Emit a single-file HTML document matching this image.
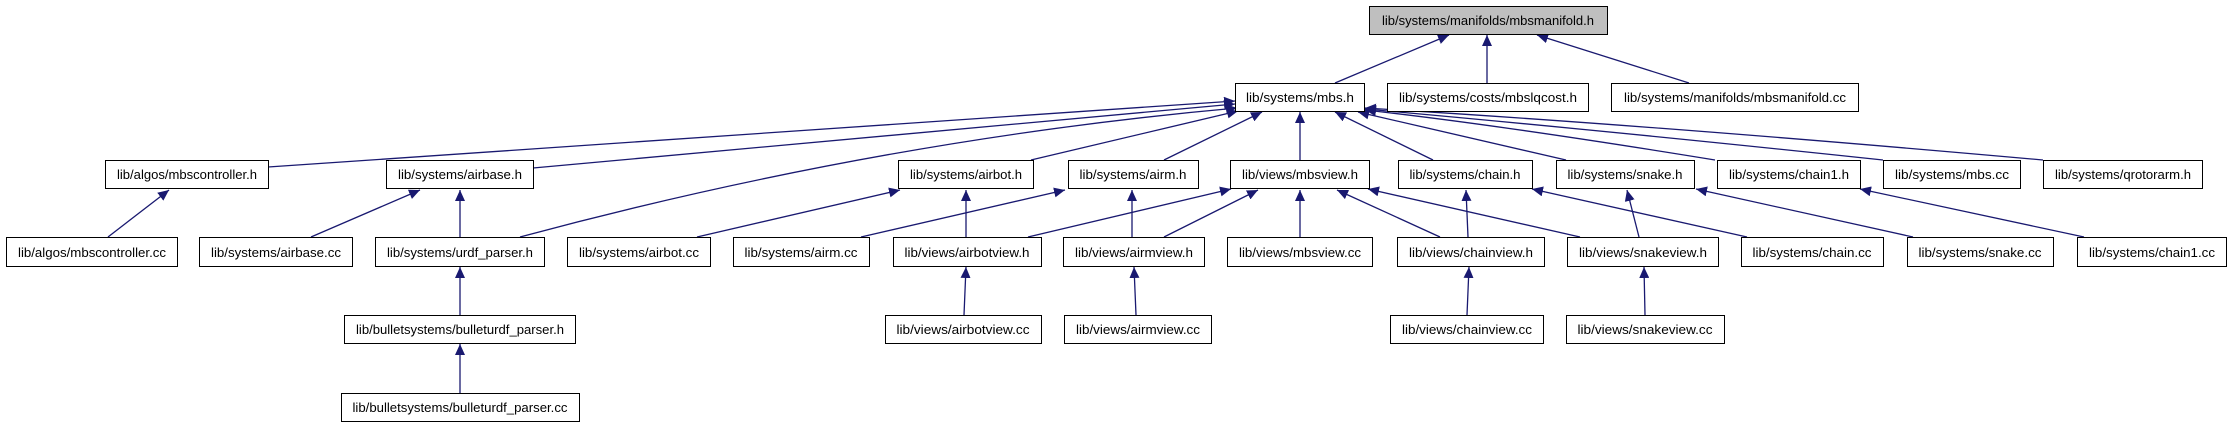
<!DOCTYPE html>
<html><head><meta charset="utf-8"><style>
html,body{margin:0;padding:0;background:#fff;}
svg{display:block;}
text{font-family:"Liberation Sans",Helvetica,sans-serif;font-size:13px;fill:#000;}
</style></head><body>
<svg width="2232" height="427" viewBox="0 0 2232 427" xmlns="http://www.w3.org/2000/svg">
<defs>
<marker id="a" markerUnits="userSpaceOnUse" markerWidth="12" markerHeight="10" refX="11" refY="5" orient="auto">
<path d="M0,0 L11,5 L0,10 Z" fill="#191970"/>
</marker>
</defs>
<g stroke="#191970" stroke-width="1.3" fill="none" marker-end="url(#a)">
<!-- to mbsmanifold.h -->
<line x1="1335" y1="83" x2="1449" y2="35"/>
<line x1="1487" y1="83" x2="1487" y2="35"/>
<line x1="1689" y1="83" x2="1537" y2="35"/>
<!-- to mbs.h -->
<line x1="268" y1="167" x2="1235" y2="101"/>
<line x1="533" y1="168" x2="1235" y2="104"/>
<path d="M520,237 Q880,140 1237,108"/>
<line x1="1031" y1="160" x2="1238" y2="111"/>
<line x1="1164" y1="160" x2="1262" y2="112"/>
<line x1="1300" y1="160" x2="1300" y2="112"/>
<line x1="1433" y1="160" x2="1335" y2="112"/>
<line x1="1566" y1="160" x2="1358" y2="112"/>
<path d="M1715,160 Q1500,125 1365,110"/>
<path d="M1883,160 Q1600,130 1365,109"/>
<path d="M2043,160 Q1650,125 1365,108"/>
<!-- row2 -> row3 -->
<line x1="108" y1="237" x2="169" y2="190"/>
<line x1="311" y1="237" x2="420" y2="190"/>
<line x1="460" y1="237" x2="460" y2="190"/>
<line x1="697" y1="237" x2="900" y2="190"/>
<line x1="966" y1="237" x2="966" y2="190"/>
<line x1="861" y1="237" x2="1065" y2="190"/>
<line x1="1132" y1="237" x2="1132" y2="190"/>
<line x1="1164" y1="237" x2="1258" y2="190"/>
<line x1="1028" y1="237" x2="1231" y2="189"/>
<line x1="1300" y1="237" x2="1300" y2="190"/>
<line x1="1440" y1="237" x2="1337" y2="190"/>
<line x1="1580" y1="237" x2="1368" y2="189"/>
<line x1="1468" y1="237" x2="1466" y2="190"/>
<line x1="1747" y1="237" x2="1532" y2="189"/>
<line x1="1639" y1="237" x2="1627" y2="190"/>
<line x1="1913" y1="237" x2="1696" y2="189"/>
<line x1="2084" y1="237" x2="1860" y2="189"/>
<!-- row3 -> row4 -->
<line x1="460" y1="315" x2="460" y2="267"/>
<line x1="964" y1="315" x2="966" y2="267"/>
<line x1="1136" y1="315" x2="1134" y2="267"/>
<line x1="1467" y1="315" x2="1469" y2="267"/>
<line x1="1645" y1="315" x2="1644" y2="267"/>
<line x1="460" y1="393" x2="460" y2="344"/>
</g>
<g stroke="#000" stroke-width="1">
<rect x="1369.5" y="6.5" width="238" height="28" fill="#bfbfbf"/>
<rect x="1235.5" y="83.5" width="129" height="28" fill="#fff"/>
<rect x="1387.5" y="83.5" width="201" height="28" fill="#fff"/>
<rect x="1611.5" y="83.5" width="247" height="28" fill="#fff"/>
<rect x="105.5" y="160.5" width="163" height="28" fill="#fff"/>
<rect x="386.5" y="160.5" width="147" height="28" fill="#fff"/>
<rect x="898.5" y="160.5" width="135" height="28" fill="#fff"/>
<rect x="1068.5" y="160.5" width="130" height="28" fill="#fff"/>
<rect x="1230.5" y="160.5" width="139" height="28" fill="#fff"/>
<rect x="1398.5" y="160.5" width="134" height="28" fill="#fff"/>
<rect x="1556.5" y="160.5" width="138" height="28" fill="#fff"/>
<rect x="1717.5" y="160.5" width="143" height="28" fill="#fff"/>
<rect x="1883.5" y="160.5" width="137" height="28" fill="#fff"/>
<rect x="2043.5" y="160.5" width="159" height="28" fill="#fff"/>
<rect x="6.5" y="237.5" width="171" height="29" fill="#fff"/>
<rect x="199.5" y="237.5" width="153" height="29" fill="#fff"/>
<rect x="375.5" y="237.5" width="169" height="29" fill="#fff"/>
<rect x="567.5" y="237.5" width="143" height="29" fill="#fff"/>
<rect x="733.5" y="237.5" width="136" height="29" fill="#fff"/>
<rect x="893.5" y="237.5" width="148" height="29" fill="#fff"/>
<rect x="1063.5" y="237.5" width="141" height="29" fill="#fff"/>
<rect x="1227.5" y="237.5" width="145" height="29" fill="#fff"/>
<rect x="1397.5" y="237.5" width="147" height="29" fill="#fff"/>
<rect x="1567.5" y="237.5" width="151" height="29" fill="#fff"/>
<rect x="1741.5" y="237.5" width="142" height="29" fill="#fff"/>
<rect x="1907.5" y="237.5" width="146" height="29" fill="#fff"/>
<rect x="2077.5" y="237.5" width="149" height="29" fill="#fff"/>
<rect x="344.5" y="315.5" width="231" height="28" fill="#fff"/>
<rect x="885.5" y="315.5" width="156" height="28" fill="#fff"/>
<rect x="1064.5" y="315.5" width="147" height="28" fill="#fff"/>
<rect x="1390.5" y="315.5" width="153" height="28" fill="#fff"/>
<rect x="1566.5" y="315.5" width="158" height="28" fill="#fff"/>
<rect x="341.5" y="393.5" width="238" height="28" fill="#fff"/>
</g>
<g text-anchor="middle" lengthAdjust="spacingAndGlyphs">
<text x="1488" y="25" textLength="212" lengthAdjust="spacingAndGlyphs">lib/systems/manifolds/mbsmanifold.h</text>
<text x="1300" y="102" textLength="108" lengthAdjust="spacingAndGlyphs">lib/systems/mbs.h</text>
<text x="1488" y="102" textLength="178" lengthAdjust="spacingAndGlyphs">lib/systems/costs/mbslqcost.h</text>
<text x="1735" y="102" textLength="222" lengthAdjust="spacingAndGlyphs">lib/systems/manifolds/mbsmanifold.cc</text>
<text x="187" y="179" textLength="140" lengthAdjust="spacingAndGlyphs">lib/algos/mbscontroller.h</text>
<text x="460" y="179" textLength="124" lengthAdjust="spacingAndGlyphs">lib/systems/airbase.h</text>
<text x="966" y="179" textLength="112" lengthAdjust="spacingAndGlyphs">lib/systems/airbot.h</text>
<text x="1133" y="179" textLength="107" lengthAdjust="spacingAndGlyphs">lib/systems/airm.h</text>
<text x="1300" y="179" textLength="116" lengthAdjust="spacingAndGlyphs">lib/views/mbsview.h</text>
<text x="1465" y="179" textLength="111" lengthAdjust="spacingAndGlyphs">lib/systems/chain.h</text>
<text x="1625" y="179" textLength="115" lengthAdjust="spacingAndGlyphs">lib/systems/snake.h</text>
<text x="1789" y="179" textLength="120" lengthAdjust="spacingAndGlyphs">lib/systems/chain1.h</text>
<text x="1952" y="179" textLength="114" lengthAdjust="spacingAndGlyphs">lib/systems/mbs.cc</text>
<text x="2123" y="179" textLength="136" lengthAdjust="spacingAndGlyphs">lib/systems/qrotorarm.h</text>
<text x="92" y="257" textLength="148" lengthAdjust="spacingAndGlyphs">lib/algos/mbscontroller.cc</text>
<text x="276" y="257" textLength="130" lengthAdjust="spacingAndGlyphs">lib/systems/airbase.cc</text>
<text x="460" y="257" textLength="146" lengthAdjust="spacingAndGlyphs">lib/systems/urdf_parser.h</text>
<text x="639" y="257" textLength="120" lengthAdjust="spacingAndGlyphs">lib/systems/airbot.cc</text>
<text x="801" y="257" textLength="113" lengthAdjust="spacingAndGlyphs">lib/systems/airm.cc</text>
<text x="967" y="257" textLength="125" lengthAdjust="spacingAndGlyphs">lib/views/airbotview.h</text>
<text x="1134" y="257" textLength="118" lengthAdjust="spacingAndGlyphs">lib/views/airmview.h</text>
<text x="1300" y="257" textLength="122" lengthAdjust="spacingAndGlyphs">lib/views/mbsview.cc</text>
<text x="1471" y="257" textLength="124" lengthAdjust="spacingAndGlyphs">lib/views/chainview.h</text>
<text x="1643" y="257" textLength="128" lengthAdjust="spacingAndGlyphs">lib/views/snakeview.h</text>
<text x="1812" y="257" textLength="119" lengthAdjust="spacingAndGlyphs">lib/systems/chain.cc</text>
<text x="1980" y="257" textLength="123" lengthAdjust="spacingAndGlyphs">lib/systems/snake.cc</text>
<text x="2152" y="257" textLength="126" lengthAdjust="spacingAndGlyphs">lib/systems/chain1.cc</text>
<text x="460" y="334" textLength="208" lengthAdjust="spacingAndGlyphs">lib/bulletsystems/bulleturdf_parser.h</text>
<text x="963" y="334" textLength="133" lengthAdjust="spacingAndGlyphs">lib/views/airbotview.cc</text>
<text x="1138" y="334" textLength="124" lengthAdjust="spacingAndGlyphs">lib/views/airmview.cc</text>
<text x="1467" y="334" textLength="130" lengthAdjust="spacingAndGlyphs">lib/views/chainview.cc</text>
<text x="1645" y="334" textLength="135" lengthAdjust="spacingAndGlyphs">lib/views/snakeview.cc</text>
<text x="460" y="412" textLength="215" lengthAdjust="spacingAndGlyphs">lib/bulletsystems/bulleturdf_parser.cc</text>
</g>
</svg>
</body></html>
